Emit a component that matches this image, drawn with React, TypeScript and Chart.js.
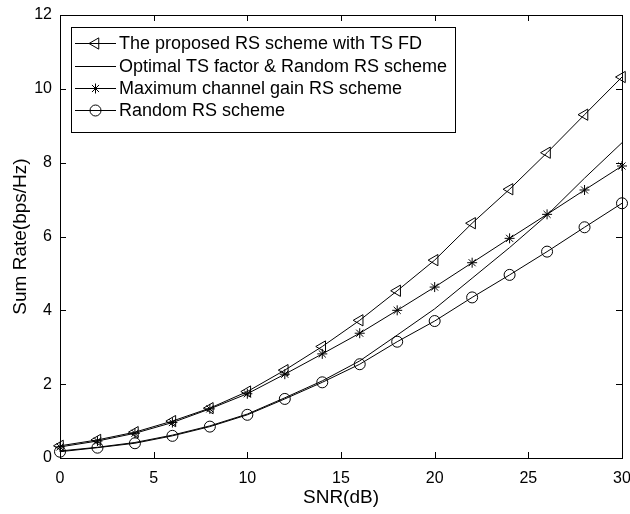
import React, { useEffect, useRef } from "react";
import { Chart, registerables } from "chart.js";

Chart.register(...registerables);

const snr = [0, 2, 4, 6, 8, 10, 12, 14, 16, 18, 20, 22, 24, 26, 28, 30];
const proposed = [0.33, 0.49, 0.70, 1.00, 1.35, 1.80, 2.38, 3.02, 3.73, 4.53, 5.36, 6.36, 7.28, 8.27, 9.30, 10.32];
const optimal = [0.19, 0.29, 0.42, 0.62, 0.87, 1.19, 1.63, 2.09, 2.63, 3.33, 4.04, 4.87, 5.70, 6.58, 7.58, 8.54];
const maxGain = [0.30, 0.46, 0.67, 0.96, 1.33, 1.74, 2.27, 2.82, 3.38, 4.00, 4.63, 5.29, 5.95, 6.60, 7.26, 7.91];
const randomRS = [0.17, 0.28, 0.40, 0.60, 0.85, 1.17, 1.60, 2.05, 2.54, 3.15, 3.71, 4.35, 4.96, 5.59, 6.25, 6.90];

const seriesLabels = [
  "The proposed RS scheme with TS FD",
  "Optimal TS factor & Random RS scheme",
  "Maximum channel gain RS scheme",
  "Random RS scheme",
];
const xTitle = "SNR(dB)";
const yTitle = "Sum Rate(bps/Hz)";

const FONT = 'Arial, "Liberation Sans", Helvetica, sans-serif';

function drawMarker(ctx: CanvasRenderingContext2D, style: string, x: number, y: number, r: number) {
  ctx.beginPath();
  if (style === "triangle") {
    let rad = -Math.PI / 2;
    ctx.moveTo(x + Math.sin(rad) * r, y - Math.cos(rad) * r);
    rad += (2 * Math.PI) / 3;
    ctx.lineTo(x + Math.sin(rad) * r, y - Math.cos(rad) * r);
    rad += (2 * Math.PI) / 3;
    ctx.lineTo(x + Math.sin(rad) * r, y - Math.cos(rad) * r);
    ctx.closePath();
  } else if (style === "circle") {
    ctx.arc(x, y, r, 0, Math.PI * 2);
  } else if (style === "star") {
    for (let k = 0; k < 4; k++) {
      const a = (k * Math.PI) / 4;
      ctx.moveTo(x + Math.cos(a) * r, y + Math.sin(a) * r);
      ctx.lineTo(x - Math.cos(a) * r, y - Math.sin(a) * r);
    }
  }
  ctx.stroke();
}

const framePlugin = {
  id: "frame",
  afterDraw(chart: any) {
    const { ctx, chartArea } = chart;
    const { left, right, top, bottom } = chartArea;
    const xs = chart.scales.x;
    const ys = chart.scales.y;
    ctx.save();
    ctx.strokeStyle = "#000";
    ctx.lineWidth = 1;
    ctx.strokeRect(left + 0.5, top + 0.5, right - left, bottom - top);
    const tl = 6;
    ctx.beginPath();
    for (const t of xs.ticks) {
      const px = Math.round(xs.getPixelForValue(t.value)) + 0.5;
      ctx.moveTo(px, bottom);
      ctx.lineTo(px, bottom - tl);
      ctx.moveTo(px, top);
      ctx.lineTo(px, top + tl);
    }
    for (const t of ys.ticks) {
      const py = Math.round(ys.getPixelForValue(t.value)) + 0.5;
      ctx.moveTo(left, py);
      ctx.lineTo(left + tl, py);
      ctx.moveTo(right, py);
      ctx.lineTo(right - tl, py);
    }
    ctx.stroke();

    // legend
    const bx = 71, by = 27, bw = 384, bh = 105;
    ctx.fillStyle = "#fff";
    ctx.fillRect(bx, by, bw, bh);
    ctx.strokeRect(bx + 0.5, by + 0.5, bw, bh);
    const rowY = [43, 66, 88, 110];
    chart.data.datasets.forEach((ds: any, i: number) => {
      const y = rowY[i] + 0.5;
      ctx.beginPath();
      ctx.moveTo(75, y);
      ctx.lineTo(116, y);
      ctx.stroke();
      if (ds.pointRadius > 0) drawMarker(ctx, ds.pointStyle, 95.5, y, ds.pointRadius);
      ctx.fillStyle = "#000";
      ctx.font = `18px ${FONT}`;
      ctx.textBaseline = "middle";
      ctx.textAlign = "left";
      ctx.fillText(ds.label, 119, rowY[i] + 1);
    });
    ctx.restore();
  },
};

export default function App() {
  const ref = useRef<HTMLCanvasElement>(null);
  useEffect(() => {
    if (!ref.current) return;
    const mk = (vals: number[]) => snr.map((x, i) => ({ x, y: vals[i] }));
    const common = {
      borderColor: "#000",
      backgroundColor: "rgba(0,0,0,0)",
      pointBorderColor: "#000",
      pointBackgroundColor: "rgba(0,0,0,0)",
      borderWidth: 1,
      pointBorderWidth: 1,
      tension: 0,
      clip: false as any,
    };
    const chart = new Chart(ref.current, {
      type: "line",
      data: {
        datasets: [
          { ...common, label: seriesLabels[0], data: mk(proposed), pointStyle: "triangle", rotation: -90, pointRadius: 6.5 },
          { ...common, label: seriesLabels[1], data: mk(optimal), pointRadius: 0 },
          { ...common, label: seriesLabels[2], data: mk(maxGain), pointStyle: "star", pointRadius: 5 },
          { ...common, label: seriesLabels[3], data: mk(randomRS), pointStyle: "circle", pointRadius: 5.5 },
        ] as any,
      },
      options: {
        animation: false,
        responsive: false,
        events: [],
        layout: { padding: { left: 0, top: 15, right: 8, bottom: 0 } },
        plugins: { legend: { display: false }, tooltip: { enabled: false } },
        scales: {
          x: {
            type: "linear",
            min: 0,
            max: 30,
            ticks: { stepSize: 5, color: "#000", font: { family: FONT, size: 16 }, padding: 11, maxRotation: 0 },
            grid: { display: false, drawTicks: false },
            border: { display: false },
            title: { display: true, text: xTitle, color: "#000", font: { family: FONT, size: 19 }, padding: { top: 0, bottom: 5 } },
            afterFit: (s: any) => { s.height = 56; s.paddingLeft = 0; s.paddingRight = 0; },
          },
          y: {
            type: "linear",
            min: 0,
            max: 12,
            ticks: { stepSize: 2, color: "#000", font: { family: FONT, size: 16 }, padding: 8 },
            grid: { display: false, drawTicks: false },
            border: { display: false },
            title: { display: true, text: yTitle, color: "#000", font: { family: FONT, size: 19 }, padding: { top: 9, bottom: 0 } },
            afterFit: (s: any) => { s.width = 60; s.paddingTop = 0; s.paddingBottom = 0; },
          },
        },
      },
      plugins: [framePlugin],
    });
    return () => chart.destroy();
  }, []);
  return (
    <div style={{ position: "absolute", left: 0, top: 0, width: 630, height: 514, background: "#fff" }}>
      <canvas ref={ref} width={630} height={514} style={{ display: "block" }} />
    </div>
  );
}
